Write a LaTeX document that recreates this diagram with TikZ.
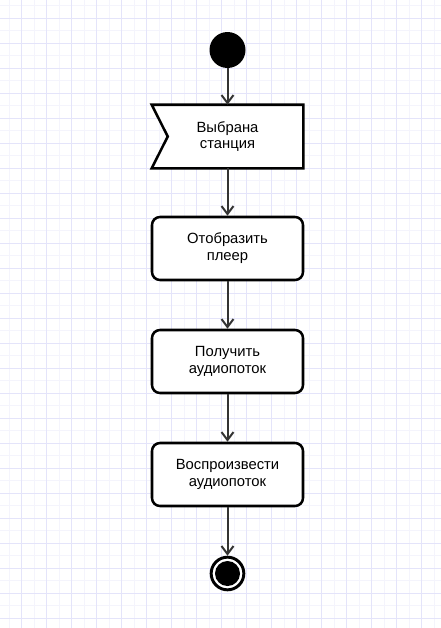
\documentclass[tikz,border=0pt]{standalone}
\usepackage{fontspec}
\setmainfont{Liberation Sans}
\usetikzlibrary{arrows.meta,calc}
\definecolor{gridmaj}{RGB}{228,228,250}
\definecolor{gridmin}{RGB}{244,244,252}
\definecolor{linec}{RGB}{51,51,51}
\tikzset{
  actbox/.style={draw=black, line width=1.9pt, fill=white, rounded corners=6pt,
    minimum width=113.25pt, minimum height=47.25pt, align=center, inner sep=0pt,
    font=\fontsize{11.1}{12.6}\selectfont},
  flagbox/.style={draw=none, minimum width=113.25pt, minimum height=47.25pt,
    align=center, inner sep=0pt, font=\fontsize{11.1}{12.6}\selectfont},
  flow/.style={draw=linec, line width=1.5pt,
    -{Straight Barb[length=6pt,width=9pt,line width=1.5pt]}},
}
\begin{document}
\begin{tikzpicture}[x=0.75pt,y=-0.75pt]
\useasboundingbox (0,0) rectangle (441,628);
\fill[white] (0,0) rectangle (441,628);
% minor grid
\foreach \i in {0,...,17} {
  \draw[gridmin, line width=0.75pt] ({9.2+25*\i},0) -- ({9.2+25*\i},628);
}
\foreach \i in {0,...,25} {
  \draw[gridmin, line width=0.75pt] (0,{5.8+25*\i}) -- (441,{5.8+25*\i});
}
% major grid
\foreach \i in {0,...,17} {
  \draw[gridmaj, line width=0.75pt] ({21.7+25*\i},0) -- ({21.7+25*\i},628);
}
\foreach \i in {0,...,25} {
  \draw[gridmaj, line width=0.75pt] (0,{18.3+25*\i}) -- (441,{18.3+25*\i});
}
% start
\node[circle, fill=black, draw=none, minimum size=27pt, inner sep=0pt] (start) at (227.5,50) {};
% flag (accept event)
\node[flagbox] (s1) at (227.5,136.5) {};
\draw[line width=1.9pt, fill=white, line join=miter]
  (s1.north west) -- (s1.north east) -- (s1.south east) -- (s1.south west)
  -- ($(s1.west)+(16,0)$) -- cycle;
\node[flagbox] at (s1.center) {Выбрана\\станция};
% actions
\node[actbox] (a1) at (227.5,248.5) {Отобразить\\плеер};
\node[actbox] (a2) at (227.5,361.5) {Получить\\аудиопоток};
\node[actbox] (a3) at (227.5,474.5) {Воспроизвести\\аудиопоток};
% end
\node[circle, draw=black, line width=2.2pt, fill=white, minimum size=24.5pt, inner sep=0pt] (end) at (227.5,573.5) {};
\node[circle, fill=black, minimum size=18.75pt, inner sep=0pt] (endin) at (end.center) {};
% flows
\draw[flow] (start) -- (s1.north);
\draw[flow] (s1.south) -- (a1.north);
\draw[flow] (a1) -- (a2);
\draw[flow] (a2) -- (a3);
\draw[flow] (a3) -- (end);
\end{tikzpicture}
\end{document}
